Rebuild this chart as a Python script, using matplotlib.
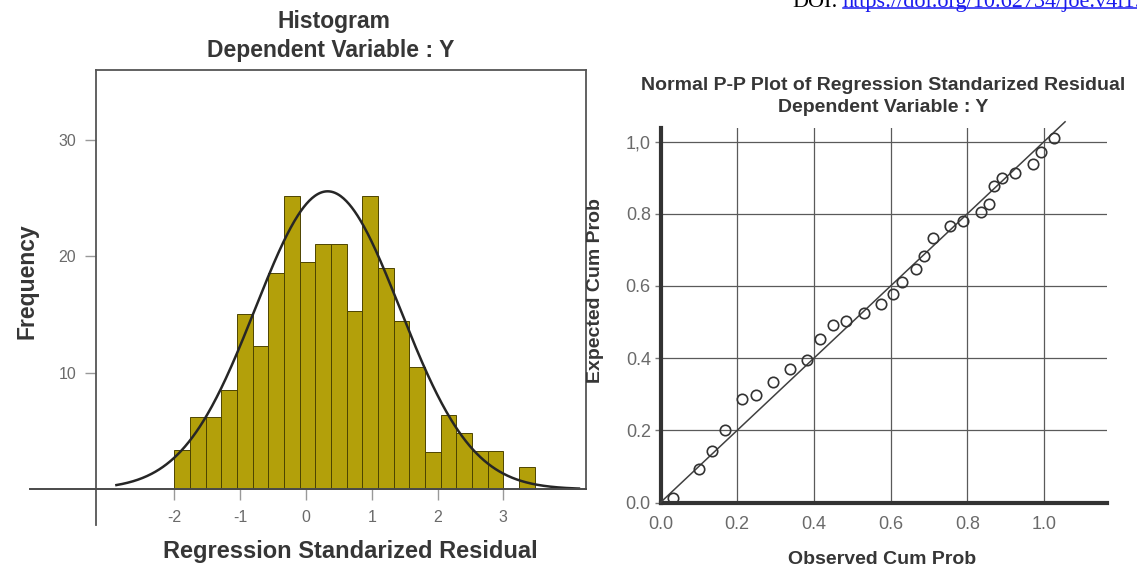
import numpy as np
import matplotlib
matplotlib.use("Agg")
import matplotlib.pyplot as plt
from matplotlib.lines import Line2D

plt.rcParams['font.family'] = ['Liberation Sans', 'DejaVu Sans']
plt.rcParams['axes.unicode_minus'] = False

# ---------------- data ----------------
# Histogram: frequency per bin, bins start at -2 with equal width
hist_counts = [3.4, 6.2, 6.2, 8.5, 15.1, 12.3, 18.6, 25.2, 19.5, 21.1, 21.1,
               15.3, 25.2, 19.0, 14.5, 10.5, 3.2, 6.4, 4.8, 3.3, 3.3, 0.0, 1.9]
hist_start = -2.0
hist_bin_width = 5 / 21
# Normal curve drawn over the histogram
curve_mean = 0.33
curve_sd = 1.10
curve_peak = 25.6
hist_xticks = [-2, -1, 0, 1, 2, 3]
hist_xticklabels = ['-2', '-1', '0', '1', '2', '3']
hist_yticks = [10, 20, 30]
hist_yticklabels = ['10', '20', '30']

# Normal P-P plot points
pp_observed = [0.033, 0.101, 0.133, 0.168, 0.212, 0.248, 0.293, 0.338, 0.383,
               0.416, 0.449, 0.484, 0.531, 0.574, 0.607, 0.631, 0.665, 0.687,
               0.710, 0.755, 0.790, 0.835, 0.857, 0.870, 0.890, 0.924, 0.971,
               0.991, 1.026]
pp_expected = [0.012, 0.093, 0.142, 0.202, 0.288, 0.299, 0.334, 0.371, 0.396,
               0.454, 0.491, 0.503, 0.525, 0.551, 0.577, 0.611, 0.646, 0.683,
               0.733, 0.767, 0.780, 0.804, 0.827, 0.877, 0.898, 0.912, 0.937,
               0.972, 1.009]
pp_line_end = 1.055
pp_ticks = [0.0, 0.2, 0.4, 0.6, 0.8, 1.0]
pp_xticklabels = ['0.0', '0.2', '0.4', '0.6', '0.8', '1.0']
pp_yticklabels = ['0.0', '0.2', '0.4', '0.6', '0.8', '1,0']

# ---------------- figure ----------------
W, H = 1137, 570
fig = plt.figure(figsize=(W / 100, H / 100), dpi=100)


def fx(px):
    return px / W


def fy(py):
    return 1 - py / H


TXT = '#363636'
TICK = '#6a6a6a'
BAR = '#B3A00A'
BAR_EDGE = '#4d4400'

# ---------- left: histogram ----------
ax1 = fig.add_axes([fx(95.5), fy(525), (586 - 95.5) / W, (525 - 70.5) / H])
n = len(hist_counts)
bin_left = hist_start + hist_bin_width * np.arange(n)
mask = np.array(hist_counts) > 0
ax1.bar(bin_left[mask], np.array(hist_counts)[mask], width=hist_bin_width,
        align='edge', color=BAR, edgecolor=BAR_EDGE, linewidth=0.7, zorder=2)

xs = np.linspace(-2.88, 4.15, 500)
ys = curve_peak * np.exp(-0.5 * ((xs - curve_mean) / curve_sd) ** 2)
ax1.plot(xs, ys, color='#262626', lw=1.8, zorder=3)

ax1.set_xlim(-3.198, 4.257)
ax1.set_ylim(-3.07, 35.98)

for s in ['left', 'top', 'right']:
    ax1.spines[s].set_color('#555555')
    ax1.spines[s].set_linewidth(1.3)
ax1.spines['right'].set_bounds(0, 35.98)
ax1.spines['bottom'].set_position(('data', 0))
ax1.spines['bottom'].set_visible(False)
ax1.plot([-4.193, 4.257], [0, 0], color='#4a4a4a', lw=1.4, clip_on=False, zorder=4)

ax1.set_xticks(hist_xticks)
ax1.set_xticklabels(hist_xticklabels)
ax1.set_yticks(hist_yticks)
ax1.set_yticklabels(hist_yticklabels)
ax1.tick_params(axis='x', direction='out', length=8, width=1, color='#999999',
                labelsize=11.5, labelcolor=TICK, pad=7)
ax1.tick_params(axis='y', direction='out', length=8, width=1, color='#999999',
                labelsize=11.5, labelcolor=TICK, pad=6)

fig.text(fx(334), fy(21.7), 'Histogram', ha='center', va='center',
         fontsize=16.5, fontweight='bold', color=TXT)
fig.text(fx(331), fy(50), 'Dependent Variable : Y', ha='center', va='center',
         fontsize=16.5, fontweight='bold', color=TXT)
fig.text(fx(350), fy(551.7), 'Regression Standarized Residual', ha='center',
         va='center', fontsize=17, fontweight='bold', color=TXT)
fig.text(fx(27), fy(281), 'Frequency', ha='center', va='center', rotation=90,
         fontsize=16.5, fontweight='bold', color=TXT)

# ---------- right: normal P-P plot ----------
ax2 = fig.add_axes([fx(660.5), fy(502.5), 446 / W, (502.5 - 128.3) / H])
ax2.set_xlim(0, 1.163)
ax2.set_ylim(0, 1.037)
ax2.set_axisbelow(True)
ax2.set_xticks(pp_ticks)
ax2.set_xticklabels(pp_xticklabels)
ax2.set_yticks(pp_ticks)
ax2.set_yticklabels(pp_yticklabels)
ax2.grid(True, color='#5a5a5a', lw=0.9)
for s in ['top', 'right']:
    ax2.spines[s].set_visible(False)
for s in ['left', 'bottom']:
    ax2.spines[s].set_color('#333333')
    ax2.spines[s].set_linewidth(3)
ax2.tick_params(axis='x', length=0, labelsize=13, labelcolor=TICK, pad=10)
ax2.tick_params(axis='y', direction='out', length=4, width=1, color='#777777',
                labelsize=13, labelcolor=TICK, pad=3)

ax2.plot([0, pp_line_end], [0, pp_line_end], color='#404040', lw=1.1,
         clip_on=False, zorder=3)
ax2.plot(pp_observed, pp_expected, 'o', mfc='none', mec='#333333', ms=7.5,
         mew=1.2, clip_on=False, zorder=4)

fig.text(fx(883.6), fy(85), 'Normal P-P Plot of Regression Standarized Residual',
         ha='center', va='center', fontsize=14, fontweight='bold', color=TXT)
fig.text(fx(883.6), fy(107), 'Dependent Variable : Y', ha='center', va='center',
         fontsize=14, fontweight='bold', color=TXT)
fig.text(fx(882.5), fy(560), 'Observed Cum Prob', ha='center', va='center',
         fontsize=14, fontweight='bold', color=TXT)
fig.text(fx(595), fy(291), 'Expected Cum Prob', ha='center', va='center',
         rotation=90, fontsize=14, fontweight='bold', color=TXT)

# ---------- DOI header ----------
fig.text(fx(792), fy(6.8), 'DOI:', ha='left', va='baseline',
         family='Liberation Serif', fontsize=16, color='black')
link = fig.text(fx(842.5), fy(6.8), 'https://doi.org/10.62734/joe.v4i1.5',
                ha='left', va='baseline', family='Liberation Serif',
                fontsize=16, color='#1a1aee')
fig.canvas.draw()
bb = link.get_window_extent()
fig.add_artist(Line2D([bb.x0 / W, min(bb.x1, W) / W], [fy(8.2), fy(8.2)],
                      transform=fig.transFigure, color='#1a1aee', lw=1.1))

fig.savefig('out.png', dpi=100)
